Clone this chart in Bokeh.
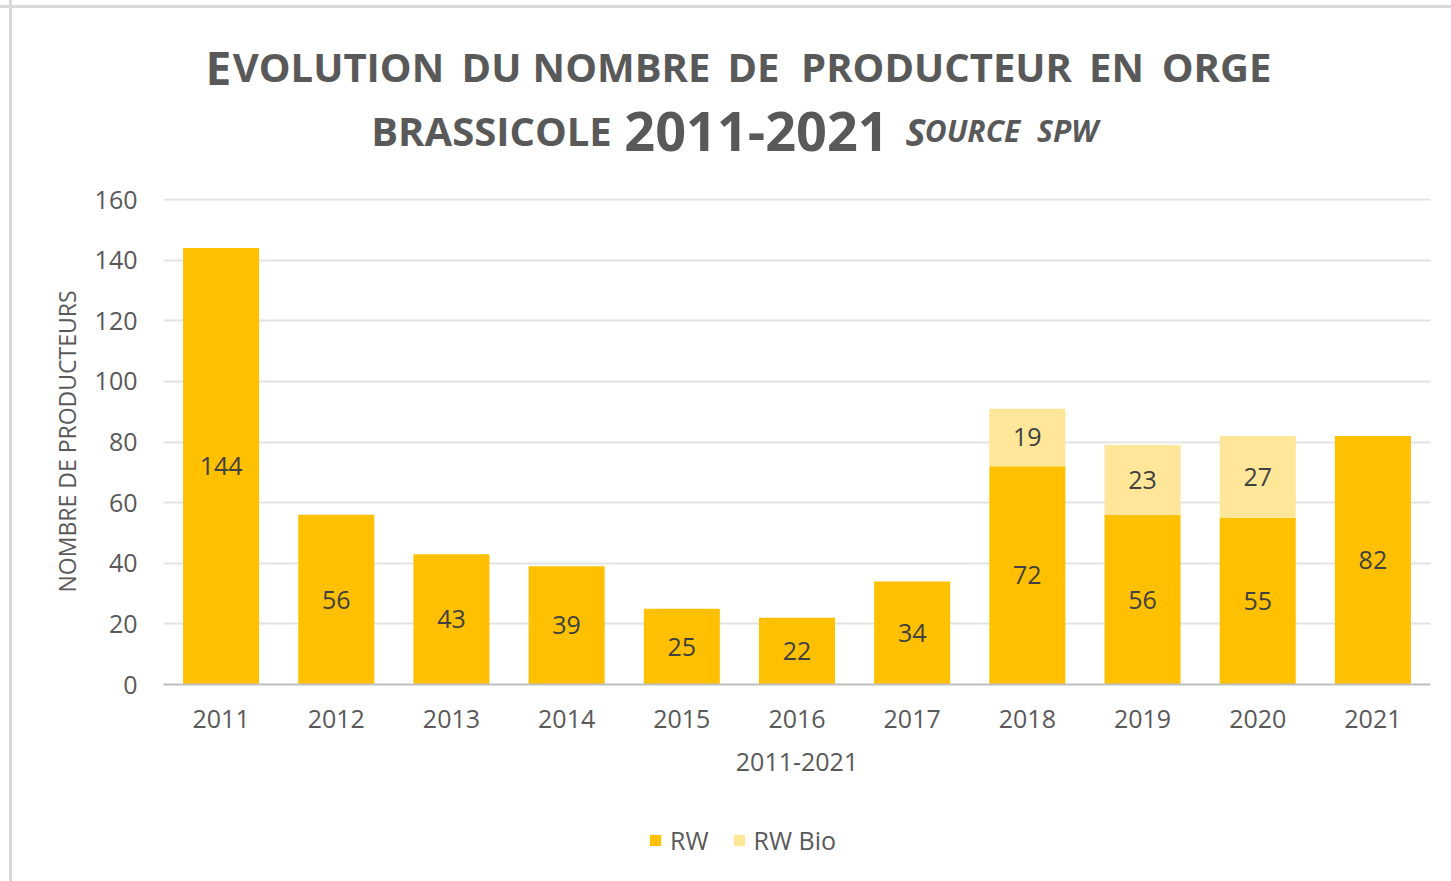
from bokeh.plotting import figure
from bokeh.layouts import column
from bokeh.models import (ColumnDataSource, FactorRange, Range1d, FixedTicker, Label,
                          LabelSet, Legend, LegendItem)
from bokeh.core.properties import value
from bokeh.embed import file_html
from bokeh.resources import INLINE

# ---------------- data ----------------
years = ["2011", "2012", "2013", "2014", "2015", "2016", "2017", "2018", "2019", "2020", "2021"]
rw = [144, 56, 43, 39, 25, 22, 34, 72, 56, 55, 82]
rw_bio = [0, 0, 0, 0, 0, 0, 0, 19, 23, 27, 0]
y_ticks = [0, 20, 40, 60, 80, 100, 120, 140, 160]
series_names = ["RW", "RW Bio"]
colors = ["#FFC000", "#FFE699"]

W, H = 1451, 881
TOP_H = 178                      # title strip height
FL, FR, FB = 163, 1430, 684      # chart frame edges (canvas px)
CHART_BOTTOM = 814               # end of the chart figure (axis labels inside)
GREY = "#595959"
FONT = "Open Sans"
LEFT_LINE = "linear-gradient(to right, transparent 9px, #d9d9d9 9px, #d9d9d9 12px, transparent 12px)"

# ---------------- title strip ----------------
t = figure(width=W, height=TOP_H, x_range=Range1d(0, 1), y_range=Range1d(0, 1),
           x_axis_type=None, y_axis_type=None, output_backend="svg", toolbar_location=None,
           min_border=0)
t.grid.visible = False
t.outline_line_color = None
t.background_fill_alpha = 0
t.border_fill_alpha = 0
t.styles = {"background": "linear-gradient(to bottom, transparent 5px, #d9d9d9 5px, #d9d9d9 8px, transparent 8px), "
                          + LEFT_LINE + ", white"}

def tlabel(text, x, base_y, size, align="center", style="bold"):
    # x, base_y: page pixels; labels are placed relative to the aligned frame
    t.add_layout(Label(x=x - FL, y=TOP_H - base_y, x_units="screen", y_units="screen",
                       text=text, text_align=align, text_baseline="alphabetic",
                       text_font=FONT, text_font_size=size, text_font_style=style,
                       text_color=GREY))

BIG, SMALL = "46px", "40px"
L1, L2 = 66, 130
tlabel("E", 205, L1, BIG, align="left")
for word, cx in [("VOLUTION", 338), ("DU", 491), ("NOMBRE", 621), ("DE", 753),
                 ("PRODUCTEUR", 936), ("EN", 1116), ("ORGE", 1216)]:
    tlabel(word, cx, L1, SMALL)
tlabel("BRASSICOLE", 491, L2, SMALL)
tlabel("2011-2021", 756, L2 + 1, "54px")
tlabel("S", 905, L2, "38px", align="left", style="bold italic")
tlabel("OURCE", 972, L2, "30px", style="bold italic")
tlabel("SPW", 1067, L2, "30px", style="bold italic")

# ---------------- chart ----------------
frame_top = 198
px_per_unit = (FB - 199) / 160.0
y_end = (FB - frame_top) / px_per_unit

p = figure(width=W, height=CHART_BOTTOM - TOP_H,
           x_range=FactorRange(factors=years, range_padding=0),
           y_range=Range1d(0, y_end), output_backend="svg", toolbar_location=None,
           min_border_left=FL, min_border_right=W - FR, min_border_top=frame_top - TOP_H,
           min_border_bottom=CHART_BOTTOM - FB)
p.outline_line_color = None
p.background_fill_color = "white"
p.border_fill_alpha = 0
p.styles = {"background": LEFT_LINE + ", white"}

src = ColumnDataSource(dict(year=years, RW=rw, Bio=rw_bio))
rs = p.vbar_stack(["RW", "Bio"], x="year", width=0.66, color=colors, line_color=None, source=src)

p.yaxis.ticker = FixedTicker(ticks=y_ticks)
p.yaxis.axis_line_color = None
p.yaxis.major_tick_line_color = None
p.yaxis.minor_tick_line_color = None
p.yaxis.major_label_standoff = 20
p.yaxis.major_label_text_font = FONT
p.yaxis.major_label_text_font_size = "25px"
p.yaxis.major_label_text_color = GREY
p.yaxis.axis_label = "NOMBRE DE PRODUCTEURS"
p.yaxis.axis_label_text_font = FONT
p.yaxis.axis_label_text_font_size = "23px"
p.yaxis.axis_label_text_font_style = "normal"
p.yaxis.axis_label_text_color = GREY
p.yaxis.axis_label_standoff = 9

p.xaxis.axis_line_color = "#bfbfbf"
p.xaxis.axis_line_width = 2
p.xaxis.major_tick_line_color = None
p.xaxis.minor_tick_line_color = None
p.xaxis.major_label_standoff = 19
p.xaxis.major_label_text_font = FONT
p.xaxis.major_label_text_font_size = "25px"
p.xaxis.major_label_text_color = GREY
p.xaxis.axis_label = "2011-2021"
p.xaxis.axis_label_text_font = FONT
p.xaxis.axis_label_text_font_size = "25px"
p.xaxis.axis_label_text_font_style = "normal"
p.xaxis.axis_label_text_color = GREY
p.xaxis.axis_label_standoff = 22

p.xgrid.grid_line_color = None
p.ygrid.grid_line_color = "#e3e3e3"
p.ygrid.grid_line_width = 2

lab_rw = ColumnDataSource(dict(year=years, y=[v / 2 for v in rw], t=[str(v) for v in rw]))
p.add_layout(LabelSet(x="year", y="y", text="t", source=lab_rw, text_align="center",
                      text_baseline="middle", text_font=value(FONT), text_font_size="25px",
                      text_color="#404040"))
bio_years = [y for y, b in zip(years, rw_bio) if b > 0]
bio_y = [r + b / 2 for r, b in zip(rw, rw_bio) if b > 0]
bio_t = [str(b) for b in rw_bio if b > 0]
lab_bio = ColumnDataSource(dict(year=bio_years, y=bio_y, t=bio_t))
p.add_layout(LabelSet(x="year", y="y", text="t", source=lab_bio, text_align="center",
                      text_baseline="middle", text_font=value(FONT), text_font_size="25px",
                      text_color="#404040"))

# ---------------- legend strip ----------------
LG_H = H - CHART_BOTTOM
lg = figure(width=W, height=LG_H, x_range=Range1d(0, 1), y_range=Range1d(0, 1),
            x_axis_type=None, y_axis_type=None, output_backend="svg", toolbar_location=None,
            min_border=0)
lg.grid.visible = False
lg.outline_line_color = None
lg.background_fill_alpha = 0
lg.border_fill_alpha = 0
lg.styles = {"background": LEFT_LINE + ", white"}
# legend keys: zero-height bars (nothing visible in the strip itself)
key0 = lg.vbar(x=[0.5], top=[0], width=0.01, color=colors[0], line_color=None)
key1 = lg.vbar(x=[0.5], top=[0], width=0.01, color=colors[1], line_color=None)
legend = Legend(items=[LegendItem(label=series_names[0], renderers=[key0]),
                       LegendItem(label=series_names[1], renderers=[key1])],
                orientation="horizontal", location=(648 - FL, H - 857),
                glyph_width=14, glyph_height=14, label_standoff=8, spacing=23,
                padding=0, margin=0, border_line_color=None, background_fill_alpha=0,
                label_text_font=FONT, label_text_font_size="25px", label_text_color=GREY)
lg.add_layout(legend, "center")

open("out.html", "w").write(file_html(column(t, p, lg, spacing=0), INLINE))
